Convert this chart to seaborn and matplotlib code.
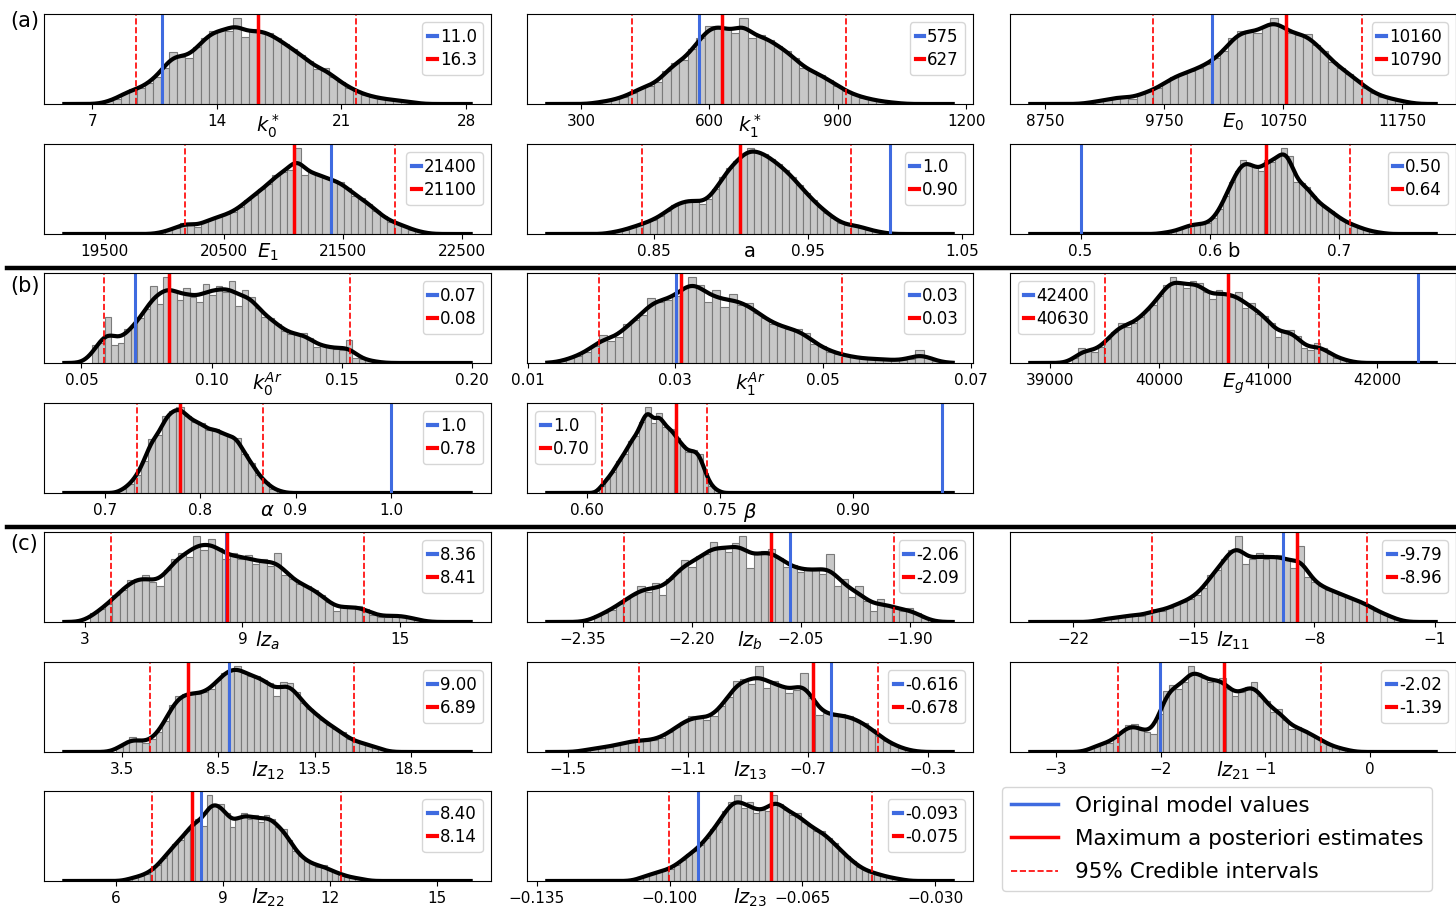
import numpy as np
import pandas as pd
import matplotlib
matplotlib.use("Agg")
import matplotlib.pyplot as plt
from matplotlib.lines import Line2D
import seaborn as sns

# ---- values ----
# histogram bar heights (relative), one list per parameter
h_k0s = [3, 6, 12, 16, 17, 23, 30, 40, 57, 52, 50, 62, 72, 80, 81, 80, 94, 74, 82, 80,
         78, 72, 66, 60, 54, 47, 38, 40, 30, 24, 18, 14, 10, 8, 6, 5, 4, 3, 2]
h_k1s = [2, 3, 5, 8, 12, 18, 20, 24, 36, 45, 48, 60, 72, 85, 86, 82, 78, 94, 72, 76,
         70, 64, 58, 50, 40, 36, 32, 26, 20, 14, 10, 7, 5, 3, 2, 1]
h_E0 = [2, 3, 5, 7, 8, 6, 11, 14, 17, 24, 30, 33, 36, 40, 44, 50, 58, 72, 80, 80,
        78, 86, 94, 84, 78, 76, 77, 65, 58, 46, 40, 33, 26, 18, 12, 8, 6, 4, 2]
h_E1 = [2, 4, 7, 12, 12, 8, 14, 17, 19, 22, 25, 30, 38, 44, 50, 56, 66, 70, 72, 96,
        66, 70, 66, 63, 60, 58, 52, 43, 40, 34, 26, 20, 14, 12, 9, 5, 3, 1]
h_a = [2, 3, 5, 8, 10, 13, 16, 20, 26, 33, 35, 38, 38, 34, 39, 50, 64, 74, 82, 90,
       96, 92, 90, 84, 78, 72, 64, 55, 46, 38, 30, 24, 18, 12, 10, 10, 8, 5, 3, 2]
h_b = [1, 2, 3, 5, 8, 10, 11, 11, 12, 18, 28, 42, 58, 70, 82, 78, 74, 70, 82, 80,
       86, 95, 86, 58, 56, 52, 42, 34, 30, 26, 20, 16, 12, 10, 7, 5, 3, 2, 1]
h_k0Ar = [20, 22, 52, 20, 22, 38, 42, 50, 60, 86, 66, 96, 82, 70, 84, 74, 68, 88, 76, 86,
          80, 92, 64, 82, 74, 62, 52, 50, 44, 36, 32, 32, 34, 28, 18, 20, 18, 16, 14, 26,
          6, 4, 3, 2]
h_k1Ar = [2, 5, 8, 12, 18, 30, 24, 28, 42, 46, 52, 70, 66, 68, 72, 80, 92, 84, 66, 78,
          60, 74, 62, 64, 54, 48, 42, 40, 36, 36, 32, 20, 18, 12, 10, 8, 6, 5, 4, 5,
          3, 3, 3, 4, 14, 6, 2]
h_Eg = [5, 16, 14, 12, 18, 26, 34, 44, 40, 44, 50, 58, 64, 74, 86, 94, 88, 82, 90, 88,
        78, 70, 80, 76, 72, 78, 60, 66, 54, 52, 44, 28, 36, 36, 30, 16, 14, 22, 16, 10,
        6, 4, 2]
h_alpha = [4, 10, 20, 36, 60, 65, 86, 92, 96, 86, 80, 78, 70, 72, 66, 64, 62, 44, 34, 20,
           12, 5, 2]
h_beta = [8, 16, 24, 36, 44, 58, 64, 80, 96, 78, 90, 74, 72, 62, 54, 46, 48, 44, 22, 8, 3]
h_lza = [10, 14, 20, 30, 36, 46, 48, 52, 44, 40, 58, 70, 76, 72, 95, 80, 92, 82, 70, 76,
         70, 74, 64, 70, 62, 76, 52, 48, 42, 40, 36, 30, 22, 12, 18, 16, 18, 14, 8, 6,
         6, 8, 7, 5, 3]
h_lzb = [8, 10, 14, 20, 26, 30, 40, 34, 44, 30, 48, 56, 70, 62, 74, 76, 90, 82, 78, 88,
         96, 60, 78, 80, 82, 72, 62, 64, 56, 60, 58, 54, 76, 40, 48, 28, 40, 24, 12, 26,
         18, 16, 12, 16, 10, 4]
h_lz11 = [3, 4, 4, 6, 7, 8, 7, 10, 14, 12, 16, 20, 22, 26, 30, 38, 52, 58, 70, 80,
          95, 64, 70, 76, 70, 72, 74, 70, 60, 84, 50, 44, 40, 36, 34, 30, 28, 24, 22, 18,
          12, 10, 6, 3]
h_lz12 = [6, 10, 17, 12, 10, 14, 22, 34, 52, 62, 64, 66, 64, 66, 70, 80, 88, 92, 95, 88,
          84, 84, 80, 76, 62, 78, 76, 66, 54, 48, 42, 36, 30, 26, 22, 14, 12, 10, 8, 6, 3]
h_lz13 = [3, 4, 5, 6, 8, 10, 12, 14, 12, 14, 16, 22, 28, 34, 40, 40, 36, 40, 52, 62,
          80, 82, 76, 96, 72, 80, 74, 66, 70, 88, 60, 42, 44, 40, 42, 40, 36, 32, 26, 18,
          12, 8, 4, 2]
h_lz21 = [4, 7, 10, 10, 16, 22, 30, 31, 24, 22, 20, 42, 68, 74, 70, 78, 95, 88, 82, 78,
          80, 82, 70, 62, 66, 72, 78, 62, 56, 44, 48, 36, 26, 28, 24, 20, 16, 12, 8, 5,
          4, 2]
h_lz22 = [3, 4, 6, 8, 12, 18, 26, 34, 42, 46, 56, 64, 70, 62, 96, 84, 86, 76, 60, 72,
          76, 70, 74, 66, 74, 70, 60, 58, 46, 34, 28, 22, 20, 16, 18, 12, 10, 8, 5, 4, 3, 2]
h_lz23 = [4, 6, 8, 10, 12, 14, 18, 24, 30, 34, 40, 48, 58, 66, 78, 88, 96, 82, 88, 76,
          80, 78, 96, 86, 80, 74, 76, 66, 62, 56, 56, 48, 42, 34, 28, 22, 16, 12, 10, 8,
          6, 4, 3, 2]

heights = [h_k0s, h_k1s, h_E0, h_E1, h_a, h_b, h_k0Ar, h_k1Ar, h_Eg, h_alpha, h_beta,
           h_lza, h_lzb, h_lz11, h_lz12, h_lz13, h_lz21, h_lz22, h_lz23]
bin_start = [7.7, 330, 9100, 19950, 0.8205, 0.5605, 0.054, 0.0141, 39200, 0.715, 0.613,
             3.2, -2.335, -20.6, 3.2, -1.45, -2.7, 6.3, -0.1085]
bin_width = [0.45, 20, 70, 60, 0.0045, 0.0045, 0.0025, 0.0011, 60, 0.0075, 0.0065,
             0.28, 0.01, 0.4, 0.34, 0.025, 0.06, 0.16, 0.0016]

param_labels = [r'$k_0^*$', r'$k_1^*$', r'$E_0$', r'$E_1$', 'a', 'b',
                r'$k_0^{Ar}$', r'$k_1^{Ar}$', r'$E_g$', r'$\alpha$', r'$\beta$',
                r'$lz_a$', r'$lz_b$', r'$lz_{11}$', r'$lz_{12}$', r'$lz_{13}$',
                r'$lz_{21}$', r'$lz_{22}$', r'$lz_{23}$']

original = [10.9, 576, 10153, 21402, 1.003, 0.5, 0.0704, 0.0301, 42380, 1.0, 1.0,
            8.36, -2.065, -9.82, 9.05, -0.622, -2.007, 8.38, -0.0925]
map_est = [16.3, 629, 10775, 21091, 0.906, 0.643, 0.0838, 0.0307, 40633, 0.779, 0.700,
           8.43, -2.091, -9.01, 6.92, -0.682, -1.395, 8.13, -0.0733]
ci_low = [9.48, 419, 9657, 20175, 0.842, 0.5856, 0.0587, 0.0196, 39505, 0.7336, 0.617,
          3.99, -2.2936, -17.42, 4.95, -1.264, -2.41, 7.01, -0.1002]
ci_high = [21.8, 919, 11414, 21940, 0.978, 0.708, 0.1533, 0.0526, 41468, 0.866, 0.735,
           13.63, -1.922, -4.95, 15.54, -0.466, -0.47, 12.31, -0.0466]
original_txt = ['11.0', '575', '10160', '21400', '1.0', '0.50', '0.07', '0.03', '42400',
                '1.0', '1.0', '8.36', '-2.06', '-9.79', '9.00', '-0.616', '-2.02', '8.40',
                '-0.093']
map_txt = ['16.3', '627', '10790', '21100', '0.90', '0.64', '0.08', '0.03', '40630',
           '0.78', '0.70', '8.41', '-2.09', '-8.96', '6.89', '-0.678', '-1.39', '8.14',
           '-0.075']

x_ticks = [[7, 14, 21, 28], [300, 600, 900, 1200], [8750, 9750, 10750, 11750],
           [19500, 20500, 21500, 22500], [0.85, 0.95, 1.05], [0.5, 0.6, 0.7],
           [0.05, 0.10, 0.15, 0.20], [0.01, 0.03, 0.05, 0.07],
           [39000, 40000, 41000, 42000], [0.7, 0.8, 0.9, 1.0], [0.60, 0.75, 0.90],
           [3, 9, 15], [-2.35, -2.20, -2.05, -1.90], [-22, -15, -8, -1],
           [3.5, 8.5, 13.5, 18.5], [-1.5, -1.1, -0.7, -0.3], [-3, -2, -1, 0],
           [6, 9, 12, 15], [-0.135, -0.100, -0.065, -0.030]]

# ---- layout ----
x_lims = [(4.3, 29.4), (174, 1216), (8456, 12204), (18990, 22747), (0.7677, 1.057),
          (0.4455, 0.79), (0.0356, 0.2073), (0.0099, 0.0703), (38633, 42725),
          (0.636, 1.105), (0.532, 1.035), (1.44, 18.47), (-2.427, -1.813),
          (-25.65, 0.22), (-0.55, 22.65), (-1.636, -0.150), (-3.44, 0.82),
          (3.98, 16.51), (-0.1376, -0.020)]
grid = [(0, 0), (0, 1), (0, 2), (1, 0), (1, 1), (1, 2), (2, 0), (2, 1), (2, 2),
        (3, 0), (3, 1), (4, 0), (4, 1), (4, 2), (5, 0), (5, 1), (5, 2), (6, 0), (6, 1)]
legend_loc = ['upper right'] * 19
legend_loc[8] = 'upper left'
legend_loc[10] = 'upper left'

W, H = 1456, 907
col_left = [44, 527, 1010]
col_w = [447, 446, 446]
row_top = [14, 144, 273, 403, 532, 662, 791]
ax_h = 90

BLUE = '#3f6be0'
RED = '#ff0000'

plt.rcParams['axes.formatter.useoffset'] = False
plt.rcParams['font.family'] = ['DejaVu Sans']

fig = plt.figure(figsize=(W / 100, H / 100), dpi=100)

for i in range(19):
    r, c = grid[i]
    ax = fig.add_axes([col_left[c] / W, 1 - (row_top[r] + ax_h) / H, col_w[c] / W, ax_h / H])

    n = len(heights[i])
    lo_edge = bin_start[i]
    hi_edge = bin_start[i] + bin_width[i] * n
    df = pd.DataFrame({
        'x': lo_edge + bin_width[i] * (np.arange(n) + 0.5),
        'w': np.array(heights[i], dtype=float),
    })

    sns.histplot(data=df, x='x', weights='w', bins=n, binrange=(lo_edge, hi_edge),
                 stat='density', color='#c8c8c8', edgecolor='#7a7a7a', linewidth=0.8,
                 alpha=1, ax=ax)
    x0, x1 = x_lims[i]
    pad = (x1 - x0) * 0.0455
    sns.kdeplot(data=df, x='x', weights='w', bw_adjust=0.28, cut=100,
                clip=(x0 + pad, x1 - pad), gridsize=400, color='black', lw=3, ax=ax)

    ax.axvline(original[i], color=BLUE, lw=2.2)
    ax.axvline(map_est[i], color=RED, lw=2.5)
    ax.axvline(ci_low[i], color=RED, lw=1.2, ls='--')
    ax.axvline(ci_high[i], color=RED, lw=1.2, ls='--')

    handles = [Line2D([], [], color=BLUE, lw=3), Line2D([], [], color=RED, lw=3)]
    ax.legend(handles, [original_txt[i], map_txt[i]], loc=legend_loc[i], fontsize=12,
              handlelength=0.5, handletextpad=0.2, labelspacing=0.3, borderpad=0.35)

    ax.set_xlim(x0, x1)
    ax.set_xticks(x_ticks[i])
    ax.tick_params(axis='x', labelsize=11)
    ax.set_yticks([])
    ax.set_ylabel('')
    ax.set_xlabel(param_labels[i], fontsize=14)
    ax.xaxis.set_label_coords(0.5, -0.06 if r == 6 else -0.09)

# section separators and tags
for y in [268, 527]:
    fig.add_artist(Line2D([7 / W, 1.0], [1 - y / H, 1 - y / H], color='black', lw=3.2,
                          transform=fig.transFigure))
for tag, y in [('(a)', 21), ('(b)', 286), ('(c)', 544)]:
    fig.text(10 / W, 1 - y / H, tag, fontsize=15, va='center', ha='left')

# shared legend
leg_handles = [Line2D([], [], color=BLUE, lw=2.5),
               Line2D([], [], color=RED, lw=2.5),
               Line2D([], [], color=RED, lw=1.2, ls='--')]
fig.legend(leg_handles, ['Original model values', 'Maximum a posteriori estimates',
                         '95% Credible intervals'],
           loc='upper left', bbox_to_anchor=(1002 / W, 1 - 787 / H), fontsize=15.5,
           borderaxespad=0, handlelength=2.2, labelspacing=0.62)

fig.savefig('out.png', dpi=100)
